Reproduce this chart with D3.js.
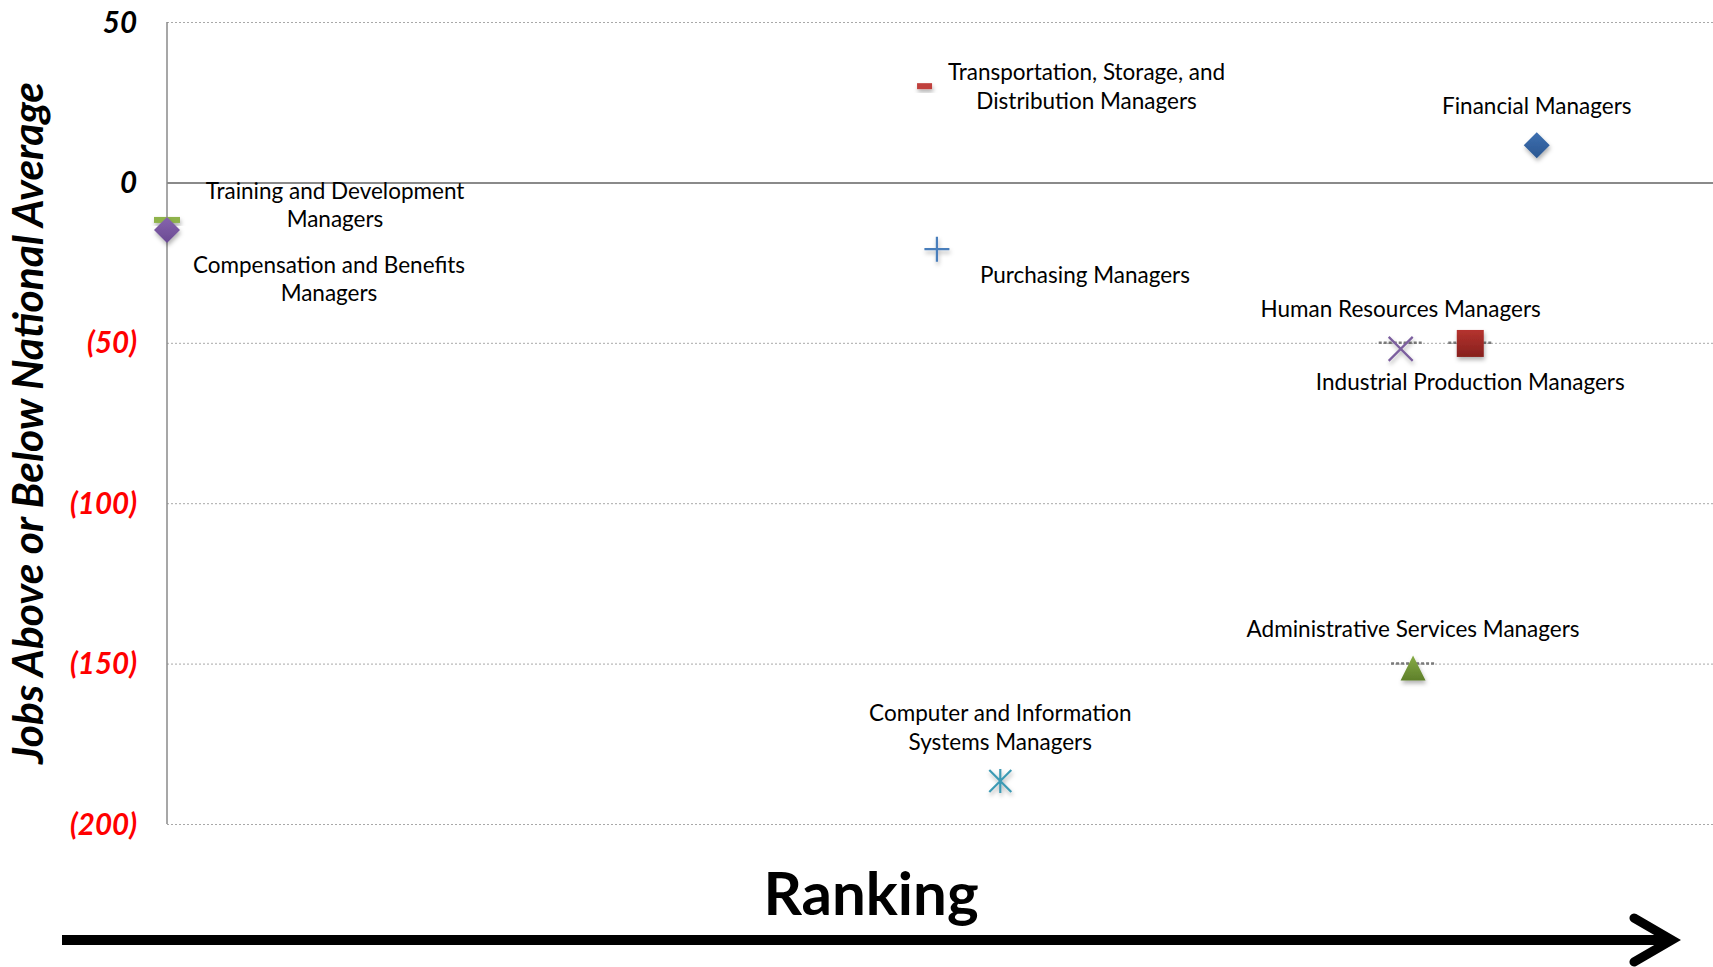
<!DOCTYPE html>
<html>
<head>
<meta charset="utf-8">
<script src="https://cdn.jsdelivr.net/npm/d3@7"></script>
<style>
  body { margin: 0; background: #fff; }
  text { font-family: Lato, "Open Sans", sans-serif; }
</style>
</head>
<body>
<script>
    var w = 1713; //width of the SVG canvas
    var h = 967; //height of the SVG canvas

    // occupations (drawn in this order, so the diamond sits over the green dash)
    var occupations = [
        "Compensation and Benefits Managers",
        "Training and Development Managers",
        "Transportation, Storage, and Distribution Managers",
        "Purchasing Managers",
        "Computer and Information Systems Managers",
        "Human Resources Managers",
        "Administrative Services Managers",
        "Industrial Production Managers",
        "Financial Managers"
    ];
    var ranking = [0, 0, 49.0, 49.8, 53.9, 79.8, 80.6, 84.3, 88.6]; //position along the ranking axis
    var jobsDiff = [-11.7, -14.8, 30.0, -20.8, -186.6, -51.9, -151.4, -50.2, 11.6]; //jobs above/below national average
    var yTicks = [50, 0, -50, -100, -150, -200];

    // marker look per occupation
    var markerStyle = {
        "Compensation and Benefits Managers": {shape: "longdash", fill: "#8fb34c"},
        "Training and Development Managers": {shape: "diamond", fill: "url(#gPurple)"},
        "Transportation, Storage, and Distribution Managers": {shape: "dash", fill: "#c0413c"},
        "Purchasing Managers": {shape: "plus", stroke: "#4a7ebb"},
        "Computer and Information Systems Managers": {shape: "asterisk", stroke: "#3d9ab4"},
        "Human Resources Managers": {shape: "x", stroke: "#7b5e9e"},
        "Administrative Services Managers": {shape: "triangle", fill: "url(#gGreen)"},
        "Industrial Production Managers": {shape: "square", fill: "url(#gRed)"},
        "Financial Managers": {shape: "diamond", fill: "url(#gBlue)"}
    };

    // label layout: text lines and offset (px) of the first baseline from the marker
    var labelLayout = {
        "Compensation and Benefits Managers": {lines: ["Compensation and Benefits", "Managers"], dx: 162, dy: 53},
        "Training and Development Managers": {lines: ["Training and Development", "Managers"], dx: 168, dy: -31},
        "Transportation, Storage, and Distribution Managers": {lines: ["Transportation, Storage, and", "Distribution Managers"], dx: 162, dy: -6},
        "Purchasing Managers": {lines: ["Purchasing Managers"], dx: 148, dy: 34},
        "Computer and Information Systems Managers": {lines: ["Computer and Information", "Systems Managers"], dx: 0, dy: -60},
        "Human Resources Managers": {lines: ["Human Resources Managers"], dx: 0, dy: -32},
        "Administrative Services Managers": {lines: ["Administrative Services Managers"], dx: 0, dy: -31},
        "Industrial Production Managers": {lines: ["Industrial Production Managers"], dx: 0, dy: 47},
        "Financial Managers": {lines: ["Financial Managers"], dx: 0, dy: -31}
    };
    // markers that sit on a darker dotted stub of their gridline
    var dottedStubs = ["Human Resources Managers", "Administrative Services Managers", "Industrial Production Managers"];

    var dataset = occupations.map(function(d, i) {return {name: d, x: ranking[i], y: jobsDiff[i]};});

    var xScale = d3.scaleLinear().domain([0, 100]).range([167, 1713]);
    var yScale = d3.scaleLinear().domain([-200, 50]).range([824, 22]);

    var svg = d3.select("body").append("svg")
        .attr("width", w)
        .attr("height", h);

    var defs = svg.append("defs");
    var shadow = defs.append("filter").attr("id", "shadow")
        .attr("x", "-50%").attr("y", "-50%").attr("width", "200%").attr("height", "200%");
    shadow.append("feDropShadow")
        .attr("dx", 1).attr("dy", 3).attr("stdDeviation", 2)
        .attr("flood-color", "#000").attr("flood-opacity", 0.3);

    function grad(id, c1, c2) {
        var g = defs.append("linearGradient").attr("id", id)
            .attr("x1", 0).attr("y1", 0).attr("x2", 0).attr("y2", 1);
        g.append("stop").attr("offset", "0%").attr("stop-color", c1);
        g.append("stop").attr("offset", "100%").attr("stop-color", c2);
    }
    grad("gBlue", "#3d6fb0", "#2b5791");
    grad("gRed", "#b5332f", "#86201d");
    grad("gGreen", "#86ab45", "#5e7f2a");
    grad("gPurple", "#8764ad", "#6a4a93");

    //gridlines (dotted), zero line solid
    var yAxis = d3.axisLeft(yScale)
        .tickValues(yTicks)
        .tickSize(-(w - 167))
        .tickFormat("");
    var grid = svg.append("g")
        .attr("class", "grid")
        .attr("transform", "translate(167,0)")
        .call(yAxis);
    grid.select(".domain").remove();
    grid.selectAll(".tick line")
        .attr("stroke", function(d) {return d === 0 ? "#8a8a8a" : "#a8a8a8";})
        .attr("stroke-width", function(d) {return d === 0 ? 2 : 1;})
        .attr("stroke-dasharray", function(d) {return d === 0 ? null : "2,2";});

    //tick labels: negatives in red, in parentheses
    svg.append("g").selectAll("text")
        .data(yTicks)
        .enter()
        .append("text")
        .attr("x", 137)
        .attr("y", function(d) {return yScale(d);})
        .attr("dy", "0.36em")
        .attr("text-anchor", "end")
        .attr("font-size", 29.5)
        .attr("font-weight", "bold")
        .attr("font-style", "italic")
        .attr("fill", function(d) {return d < 0 ? "#ff0000" : "#000";})
        .text(function(d) {return d < 0 ? "(" + (-d) + ")" : d;});

    //vertical axis line
    svg.append("line")
        .attr("x1", 167).attr("x2", 167)
        .attr("y1", yScale(50)).attr("y2", yScale(-200))
        .attr("stroke", "#8a8a8a")
        .attr("stroke-width", 1.5);

    //dotted stubs on the gridline under some markers
    svg.append("g").selectAll("line")
        .data(dataset.filter(function(d) {return dottedStubs.indexOf(d.name) >= 0;}))
        .enter()
        .append("line")
        .attr("x1", function(d) {return xScale(d.x) - 22;})
        .attr("x2", function(d) {return xScale(d.x) + 22;})
        .attr("y1", function(d) {return yScale(Math.round(d.y / 50) * 50);})
        .attr("y2", function(d) {return yScale(Math.round(d.y / 50) * 50);})
        .attr("stroke", "#7a7a7a")
        .attr("stroke-width", 2.5)
        .attr("stroke-dasharray", "3,2");

    function markerPath(shape) {
        switch (shape) {
            case "diamond": return "M0,-13L13,0L0,13L-13,0Z";
            case "square": return "M-13.5,-13.5H13.5V13.5H-13.5Z";
            case "triangle": return "M0,-12.5L12.5,12.5H-12.5Z";
            case "x": return "M-12,-12L12,12M12,-12L-12,12";
            case "plus": return "M-12.5,0H12.5M0,-12.5V12.5";
            case "asterisk": return "M-11,-11L11,11M11,-11L-11,11M0,-12V12";
            case "dash": return "M-7.5,-3H7.5V3H-7.5Z";
            case "longdash": return "M-13,-3H13V3H-13Z";
        }
    }

    //markers
    svg.append("g").selectAll("path")
        .data(dataset)
        .enter()
        .append("path")
        .attr("transform", function(d) {return "translate(" + xScale(d.x) + "," + yScale(d.y) + ")";})
        .attr("d", function(d) {return markerPath(markerStyle[d.name].shape);})
        .attr("fill", function(d) {return markerStyle[d.name].fill || "none";})
        .attr("stroke", function(d) {return markerStyle[d.name].stroke || "none";})
        .attr("stroke-width", 2.2)
        .attr("filter", "url(#shadow)");

    //labels
    var labels = svg.append("g").selectAll("text")
        .data(dataset)
        .enter()
        .append("text")
        .attr("text-anchor", "middle")
        .attr("font-size", 22.5)
        .attr("fill", "#000")
        .attr("transform", function(d) {
            var l = labelLayout[d.name];
            return "translate(" + (xScale(d.x) + l.dx) + "," + (yScale(d.y) + l.dy) + ")";
        });
    labels.selectAll("tspan")
        .data(function(d) {return labelLayout[d.name].lines;})
        .enter()
        .append("tspan")
        .attr("x", 0)
        .attr("y", function(d, i) {return i * 28.5;})
        .text(function(d) {return d;});

    // Adding y-axis label
    svg.append("text")
        .attr("text-anchor", "middle")
        .attr("transform", "translate(43," + 423 + ") rotate(-90)")
        .attr("font-size", 42.5)
        .attr("font-weight", "bold")
        .attr("font-style", "italic")
        .text("Jobs Above or Below National Average");

    // Adding x-axis label
    svg.append("text")
        .attr("text-anchor", "middle")
        .attr("x", 871)
        .attr("y", 915)
        .attr("font-size", 60)
        .attr("font-weight", "bold")
        .text("Ranking");

    //ranking arrow
    svg.append("line")
        .attr("x1", 62).attr("x2", 1668)
        .attr("y1", 940).attr("y2", 940)
        .attr("stroke", "#000")
        .attr("stroke-width", 10);
    svg.append("path")
        .attr("d", "M1634,918L1672,940L1634,962")
        .attr("fill", "none")
        .attr("stroke", "#000")
        .attr("stroke-width", 9)
        .attr("stroke-linecap", "round");
</script>
</body>
</html>
